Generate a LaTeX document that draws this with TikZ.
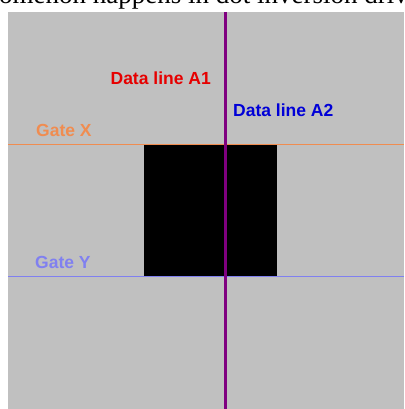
\documentclass[tikz,border=0pt]{standalone}
\usepackage{fontspec}
\setmainfont{Liberation Serif}
\newfontfamily\labelfont{Liberation Sans}
\definecolor{panelgray}{RGB}{192,192,192}
\definecolor{gatexcol}{RGB}{240,140,80}
\definecolor{gateycol}{RGB}{128,128,240}
\definecolor{dataacol}{RGB}{230,0,0}
\definecolor{databcol}{RGB}{0,0,215}
\definecolor{datalinecol}{RGB}{128,0,128}
\begin{document}
\begin{tikzpicture}[x=1pt, y=-1pt, lbl/.style={font=\labelfont\bfseries\fontsize{17.5}{17.5}\selectfont, inner sep=0pt}]
  \useasboundingbox (0,0) rectangle (404,409);
  \clip (0,0) rectangle (404,409);
  \node[anchor=base west, inner sep=0pt, font=\fontsize{27}{27}\selectfont] (caption) at (-1,4) {omenon happens in dot inversion driv};
  \fill[panelgray] (8,12) rectangle (404,409);
  \node[fill=black, anchor=north west, inner sep=0pt, minimum width=133pt, minimum height=131pt] (pixel) at (144,145) {};
  % gate lines
  \coordinate (gx-l) at (8,144.5);  \coordinate (gx-r) at (404,144.5);
  \coordinate (gy-l) at (8,276.5);  \coordinate (gy-r) at (404,276.5);
  \draw[gatexcol, line width=1.2pt] (gx-l) -- (gx-r);
  \draw[gateycol, line width=1.2pt] (gy-l) -- (gy-r);
  % data line
  \coordinate (dl-t) at (225.6,12); \coordinate (dl-b) at (225.6,409);
  \draw[datalinecol, line width=2.3pt] (dl-t) -- (dl-b);
  \node[lbl, text=dataacol, anchor=base east] (a1) at (211,85) {Data line A1};
  \node[lbl, text=databcol, anchor=base west] (a2) at (233,117) {Data line A2};
  \node[lbl, text=gatexcol, anchor=base west] (gx) at (36,136) {Gate X};
  \node[lbl, text=gateycol, anchor=base west] (gy) at (35,268.5) {Gate Y};
\end{tikzpicture}
\end{document}
